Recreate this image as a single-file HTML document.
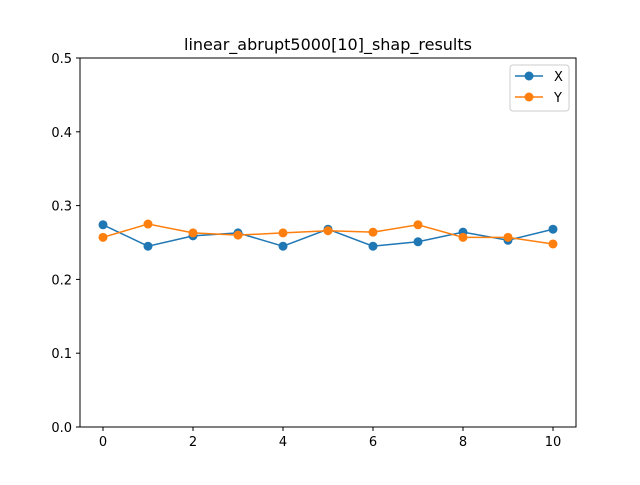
<!DOCTYPE html>
<html><head><meta charset="utf-8"><style>
body{margin:0;background:#fff}
svg{font-family:"DejaVu Sans","Liberation Sans",sans-serif}
</style></head><body>
<svg id="chart" width="640" height="480">
<rect width="640" height="480" fill="#fff"/>
<text x="328" y="50" text-anchor="middle" font-size="16">linear_abrupt5000[10]_shap_results</text>
<g id="plot"></g>
<rect x="80" y="58" width="496" height="369" fill="none" stroke="#000" stroke-width="1"/>
<g>
<rect x="510" y="65" width="59" height="46" rx="3" fill="#fff" stroke="#ccc"/>
<g>
<line x1="515" y1="76" x2="543" y2="76" stroke="#1f77b4" stroke-width="1.5"/>
<circle cx="529" cy="76" r="4.5" fill="#1f77b4"/>
<text x="554" y="81" font-size="13">X</text></g>
<g>
<line x1="515" y1="97" x2="543" y2="97" stroke="#ff7f0e" stroke-width="1.5"/>
<circle cx="529" cy="97" r="4.5" fill="#ff7f0e"/>
<text x="554" y="102" font-size="13">Y</text></g>
</g>
</svg>
<script>
const categories=[0,1,2,3,4,5,6,7,8,9,10];
const xVals=[0.274,0.245,0.259,0.263,0.245,0.268,0.245,0.251,0.264,0.253,0.268];
const yVals=[0.257,0.275,0.263,0.260,0.263,0.266,0.264,0.274,0.257,0.257,0.248];
const xTicks=[0,2,4,6,8,10];
const yTicks=[0.0,0.1,0.2,0.3,0.4,0.5];
const NS="http://www.w3.org/2000/svg";
function sx(v){return 103+v*45;}
function sy(v){return 427-v*738;}
const g=document.getElementById('plot');
function mk(t,a){const e=document.createElementNS(NS,t);for(const k in a)e.setAttribute(k,a[k]);g.appendChild(e);return e;}
xTicks.forEach(t=>{
  const l=mk('line',{x1:sx(t),x2:sx(t),y1:427,y2:431,stroke:'#000'});
  
  
  const tx=mk('text',{x:sx(t),y:446,'text-anchor':'middle','font-size':'13'});tx.textContent=t;
  
  
});
yTicks.forEach(t=>{
  const l=mk('line',{x1:76,x2:80,y1:sy(t),y2:sy(t),stroke:'#000'});
  
  
  const tx=mk('text',{x:72,y:sy(t)+5,'text-anchor':'end','font-size':'13'});tx.textContent=t.toFixed(1);
  
  
});
function series(vals,color,name){
  const p=mk('polyline',{points:vals.map((v,i)=>sx(categories[i])+','+sy(v)).join(' '),fill:'none',stroke:color,'stroke-width':1.5});
  
  
  vals.forEach((v,i)=>{
    const c=mk('circle',{cx:sx(categories[i]),cy:sy(v),r:4.5,fill:color});
    
    
  });
}
series(xVals,'#1f77b4','series-x');
series(yVals,'#ff7f0e','series-y');
</script>
</body></html>
